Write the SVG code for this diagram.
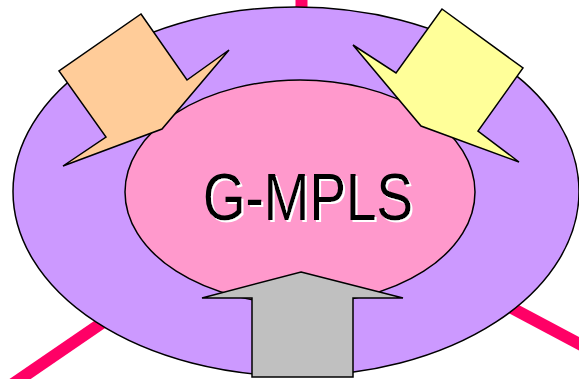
<svg xmlns="http://www.w3.org/2000/svg" width="579" height="379" viewBox="0 0 579 379">
  <style>
    .link { stroke: #FF0066; stroke-width: 12; fill: none; }
    .shape { stroke: #000; stroke-width: 1.5; stroke-linejoin: miter; }
    .label { font-family: "Liberation Sans", Arial, sans-serif; font-size: 66px; }
  </style>
  <defs>
    <!-- white drop shadow offset down-right behind the title -->
    <filter id="white-shadow" x="-10%" y="-20%" width="120%" height="140%">
      <feOffset in="SourceAlpha" dx="2" dy="2" result="off"/>
      <feFlood flood-color="#fff"/>
      <feComposite in2="off" operator="in" result="shadow"/>
      <feMerge>
        <feMergeNode in="shadow"/>
        <feMergeNode in="SourceGraphic"/>
      </feMerge>
    </filter>
  </defs>
  <rect width="579" height="379" fill="#fff"/>
  <g id="connectors">
    <line class="link" x1="301.5" y1="190" x2="301.5" y2="-5"/>
    <line class="link" x1="296" y1="190" x2="4" y2="390"/>
    <line class="link" x1="300" y1="195" x2="600" y2="355"/>
  </g>
  <g id="outer-ring">
    <ellipse class="shape" cx="296" cy="191.5" rx="283" ry="184.5" fill="#CC99FF"/>
  </g>
  <g id="core">
    <ellipse class="shape" cx="300" cy="192" rx="175" ry="112" fill="#FF99CC"/>
  </g>
  <g id="arrow-left">
    <polygon class="shape" fill="#FFCC99" points="141,14 187,80 229,50 162,129 63,166 106,137 59,71"/>
  </g>
  <g id="arrow-right">
    <polygon class="shape" fill="#FFFF99" points="442,9 523,68 478,131 519,162 421,126 353,45 396,73"/>
  </g>
  <g id="arrow-bottom">
    <polygon class="shape" fill="#C0C0C0" points="301,272 403,298 353,298 353,377 252,377 252,298 202,298"/>
  </g>
  <g id="label">
    <text class="label" x="203" y="220" fill="#000" filter="url(#white-shadow)" textLength="210" lengthAdjust="spacingAndGlyphs">G-MPLS</text>
  </g>
</svg>
